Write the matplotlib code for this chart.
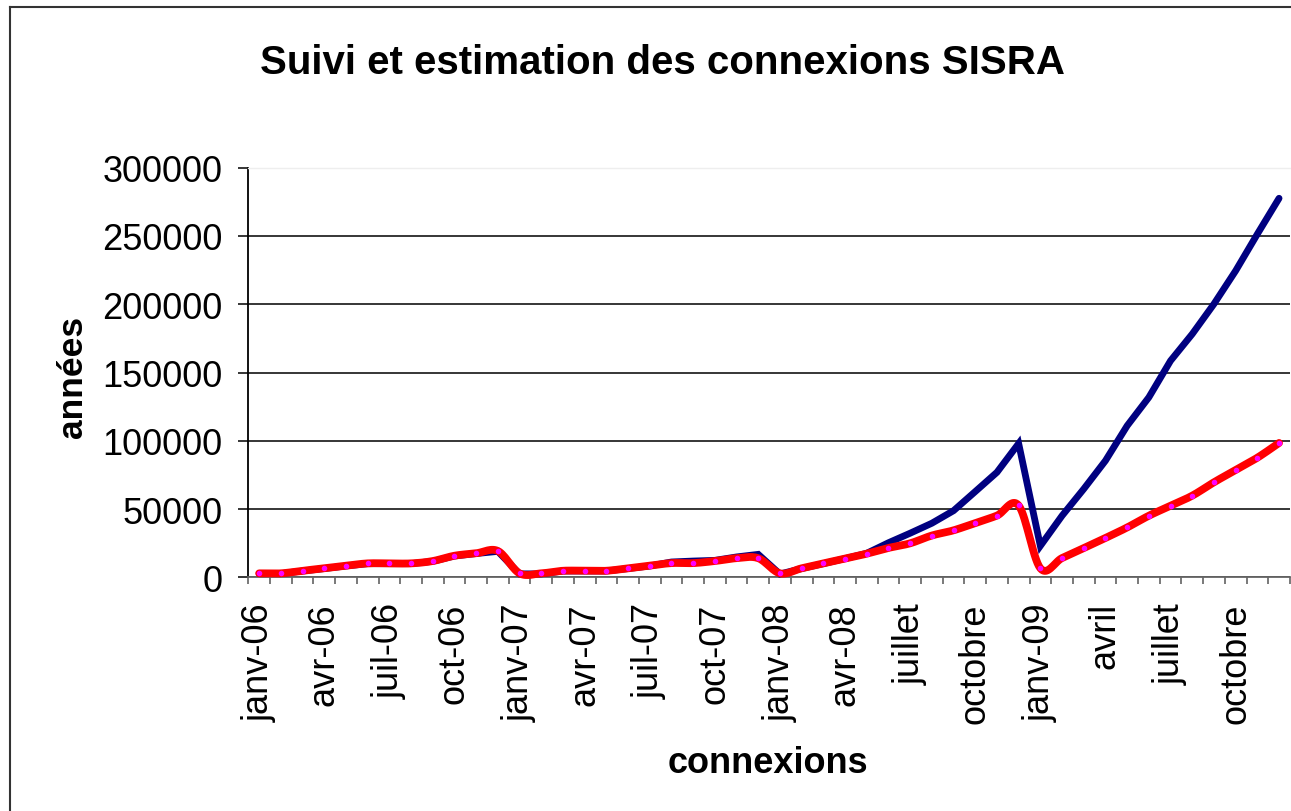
import numpy as np
import matplotlib
matplotlib.use("Agg")
import matplotlib.pyplot as plt
from matplotlib.lines import Line2D
from matplotlib.ticker import FixedLocator, NullFormatter

plt.rcParams['font.family'] = ['Liberation Sans', 'DejaVu Sans']

# ---------------- data ----------------
tick_labels = ["janv-06", "avr-06", "juil-06", "oct-06",
               "janv-07", "avr-07", "juil-07", "oct-07",
               "janv-08", "avr-08", "juillet", "octobre",
               "janv-09", "avril", "juillet", "octobre"]

# monthly values, janv-06 .. déc-09 (48 months)
suivi = [2700, 2700, 4600, 6400, 8300, 10000, 10000, 10000, 11700, 15600, 17400, 19000,
         2500, 2500, 4600, 4600, 4600, 6400, 8300, 11200, 11900, 12400, 14900, 16800,
         2400, 6400, 10000, 13700, 17600, 25300, 32300, 39600, 48800, 62800, 76900, 98000,
         23000, 45100, 64700, 85400, 111000, 131800, 158600, 178200, 200200, 224500, 251400, 277600]

estimation = [2900, 2900, 4800, 6600, 8500, 10200, 10200, 10200, 11900, 15800, 17600, 19300,
              2900, 2900, 4800, 4800, 4800, 6600, 8500, 10400, 10400, 11900, 14000, 14000,
              2900, 6600, 10200, 13700, 17300, 21500, 24900, 30600, 34400, 39800, 45200, 52600,
              6600, 14100, 21400, 28800, 36500, 45100, 52400, 59800, 69600, 78600, 87600, 98400]

title = "Suivi et estimation des connexions SISRA"
xlabel = "connexions"
ylabel = "années"
yticks = [0, 50000, 100000, 150000, 200000, 250000, 300000]


def smooth(xs, ys, n=16):
    """Excel-like smoothed line (Catmull-Rom / Bezier with 1/6 tension)."""
    pts = np.column_stack([xs, ys]).astype(float)
    P = np.vstack([pts[0], pts, pts[-1]])
    out = []
    t = np.linspace(0, 1, n)[:, None]
    for i in range(len(pts) - 1):
        p0, p1, p2, p3 = P[i], P[i + 1], P[i + 2], P[i + 3]
        c1 = p1 + (p2 - p0) / 6.0
        c2 = p2 - (p3 - p1) / 6.0
        seg = (1 - t) ** 3 * p1 + 3 * (1 - t) ** 2 * t * c1 + 3 * (1 - t) * t ** 2 * c2 + t ** 3 * p2
        out.append(seg if i == 0 else seg[1:])
    s = np.vstack(out)
    return s[:, 0], s[:, 1]


W, H = 1291, 812
fig = plt.figure(figsize=(W / 100, H / 100), dpi=100)
fig.patch.set_facecolor("white")

x0, x1, ytop, ybot = 248.3, 1289.9, 168.7, 578.3
ax = fig.add_axes([x0 / W, 1 - ybot / H, (x1 - x0) / W, (ybot - ytop) / H])

n = len(suivi)
x = np.arange(n)

ax.plot(x, suivi, color="#000080", lw=4.9, solid_capstyle="round",
        solid_joinstyle="miter", zorder=3, clip_on=False)
sx, sy = smooth(x, estimation)
ax.plot(sx, sy, color="#FF0000", lw=5.6, solid_capstyle="round",
        solid_joinstyle="round", zorder=4, clip_on=False)
ax.plot(x, estimation, ls="none", marker="o", markersize=4.0, color="#FF00FF",
        markeredgewidth=0, zorder=5, clip_on=False)

ax.set_xlim(-0.5, n - 0.5)
ax.set_ylim(0, 300000)

# y axis
ax.set_yticks(yticks)
ax.set_yticklabels([str(v) for v in yticks], fontsize=26)
ax.yaxis.grid(True, color="black", lw=1.1)
ax.set_axisbelow(True)
ax.tick_params(axis="y", direction="out", length=7.5, width=1.1, pad=11, colors="black")

# x axis: ticks between categories, labels on categories
ax.xaxis.set_major_locator(FixedLocator(np.arange(-0.5, n, 1.0)))
ax.xaxis.set_major_formatter(NullFormatter())
ax.xaxis.set_minor_locator(FixedLocator(np.arange(0, n, 3)))
ax.set_xticklabels(tick_labels, minor=True, rotation=90, fontsize=26, va="top", ha="center")
ax.tick_params(axis="x", which="major", direction="out", length=5.2, width=1.1, color="#555555")
ax.tick_params(axis="x", which="minor", length=0, pad=18)

ax.spines["right"].set_visible(False)
ax.spines["top"].set_color("#eeeeee")
ax.spines["top"].set_linewidth(1.0)
ax.spines["left"].set_color("black")
ax.spines["left"].set_linewidth(1.3)
ax.spines["bottom"].set_color("#666666")
ax.spines["bottom"].set_linewidth(1.3)

# texts
fig.text(662.5 / W, 1 - 74 / H, title, fontsize=29, fontweight="bold",
         ha="center", va="baseline")
fig.text(768 / W, 1 - 773 / H, xlabel, fontsize=26, fontweight="bold",
         ha="center", va="baseline")
fig.text(82 / W, 1 - 377 / H, ylabel, fontsize=25.5, fontweight="bold",
         ha="center", va="baseline", rotation=90, rotation_mode="anchor")

# chart area border (top and left visible, right/bottom beyond the image)
fig.add_artist(Line2D([9.5 / W, 9.5 / W], [0, 1 - 7.5 / H], transform=fig.transFigure,
                      color="#333333", lw=1.5))
fig.add_artist(Line2D([9.5 / W, 1.0], [1 - 7.5 / H, 1 - 7.5 / H], transform=fig.transFigure,
                      color="#333333", lw=1.5))

fig.savefig("out.png", dpi=100, facecolor="white")
